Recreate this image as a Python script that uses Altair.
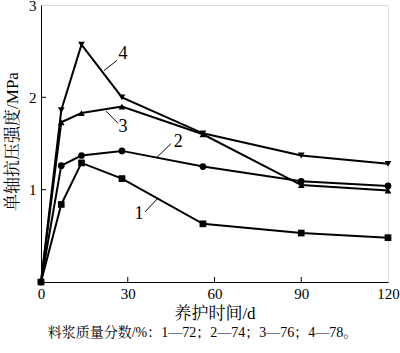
import altair as alt
import pandas as pd

days = [0, 7, 14, 28, 56, 90, 120]
s1 = [0, 0.84, 1.29, 1.12, 0.63, 0.53, 0.48]
s2 = [0, 1.26, 1.37, 1.42, 1.25, 1.09, 1.04]
s3 = [0, 1.73, 1.83, 1.90, 1.60, 1.05, 0.99]
s4 = [0, 1.86, 2.57, 2.00, 1.61, 1.37, 1.28]
series_names = ["1", "2", "3", "4"]
shapes = ["square", "circle", "triangle-up", "triangle-down"]

x_ticks = [0, 30, 60, 90, 120]
y_ticks = [1, 2, 3]

# annotation labels (data coords) and leader lines
lab_text = ["1", "2", "3", "4"]
lab_x = [33.9, 47.5, 28.4, 28.4]
lab_y = [0.74, 1.52, 1.68, 2.47]
lead_x1 = [36.0, 40.1, 22.5, 21.8]
lead_y1 = [0.76, 1.35, 1.85, 2.29]
lead_x2 = [40.5, 45.0, 26.6, 26.3]
lead_y2 = [0.91, 1.50, 1.72, 2.40]

caption = "料浆质量分数/%：1—72；2—74；3—76；4—78。"

rows = []
for name, vals in zip(series_names, [s1, s2, s3, s4]):
    for d, v in zip(days, vals):
        rows.append({"day": d, "val": v, "s": name})
df = pd.DataFrame(rows)

FONT = "Liberation Serif, Times New Roman, Noto Serif CJK SC, Noto Sans CJK SC"
W, H = 347, 277

xs = alt.Scale(domain=[0, 120], nice=False, zero=False)
ys = alt.Scale(domain=[0, 3], nice=False)

x_enc = alt.X("day:Q", scale=xs, axis=alt.Axis(
    values=x_ticks, format="d", ticks=False, grid=False, domainColor="black", labelFont=FONT,
    labelFontSize=15, labelColor="black", labelPadding=4, labelFlush=False,
    title="养护时间/d", titleFont=FONT, titleFontSize=17, titleFontWeight="normal",
    titleColor="black", titleX=W / 2, titleY=31, titleBaseline="middle", titleAnchor="middle"))
y_enc = alt.Y("val:Q", scale=ys, axis=alt.Axis(
    values=y_ticks, format="d", ticks=False, grid=False, domainColor="black", labelFont=FONT,
    labelFontSize=15, labelColor="black", labelPadding=5, labelFlush=False,
    title="单轴抗压强度/MPa", titleFont=FONT, titleFontSize=17, titleFontWeight="normal",
    titleColor="black", titleX=-29, titleY=136, titleAngle=270, titleAlign="center",
    titleBaseline="middle"))

base = alt.Chart(df)
lines = base.mark_line(color="black", strokeWidth=2).encode(x=x_enc, y=y_enc, detail="s:N")
points = base.mark_point(filled=True, color="black", opacity=1, size=45).encode(
    x="day:Q", y="val:Q",
    shape=alt.Shape("s:N", scale=alt.Scale(domain=series_names, range=shapes), legend=None))

xt = pd.DataFrame({"t": x_ticks[1:-1]})
xtick = alt.Chart(xt).mark_rule(color="black", strokeWidth=1).encode(
    x=alt.X("t:Q", scale=xs), y=alt.value(H), y2=alt.value(H - 5))
yt = pd.DataFrame({"t": y_ticks[:-1]})
ytick = alt.Chart(yt).mark_rule(color="black", strokeWidth=1).encode(
    y=alt.Y("t:Q", scale=ys), x=alt.value(0), x2=alt.value(5))

ann = pd.DataFrame({"t": lab_text, "x": lab_x, "y": lab_y,
                    "x1": lead_x1, "y1": lead_y1, "x2": lead_x2, "y2": lead_y2})
leaders = alt.Chart(ann).mark_rule(color="black", strokeWidth=1).encode(
    x=alt.X("x1:Q", scale=xs), y=alt.Y("y1:Q", scale=ys), x2="x2:Q", y2="y2:Q")
labels = alt.Chart(ann).mark_text(font=FONT, fontSize=18, color="black",
                                  baseline="middle", align="center").encode(
    x=alt.X("x:Q", scale=xs), y=alt.Y("y:Q", scale=ys), text="t:N")

chart = alt.layer(lines, points, xtick, ytick, leaders, labels).properties(
    width=W, height=H,
    autosize=alt.AutoSizeParams(type="none"),
    padding={"left": 41, "top": 5, "right": 12, "bottom": 71},
    title=alt.TitleParams(caption, orient="bottom", anchor="middle", font=FONT,
                          fontSize=14, fontWeight="normal", color="black", offset=5, dx=-12),
).configure_view(stroke="black", strokeWidth=1).configure(background="white")

chart.save("out.html", embed_options={"renderer": "svg", "actions": False})
